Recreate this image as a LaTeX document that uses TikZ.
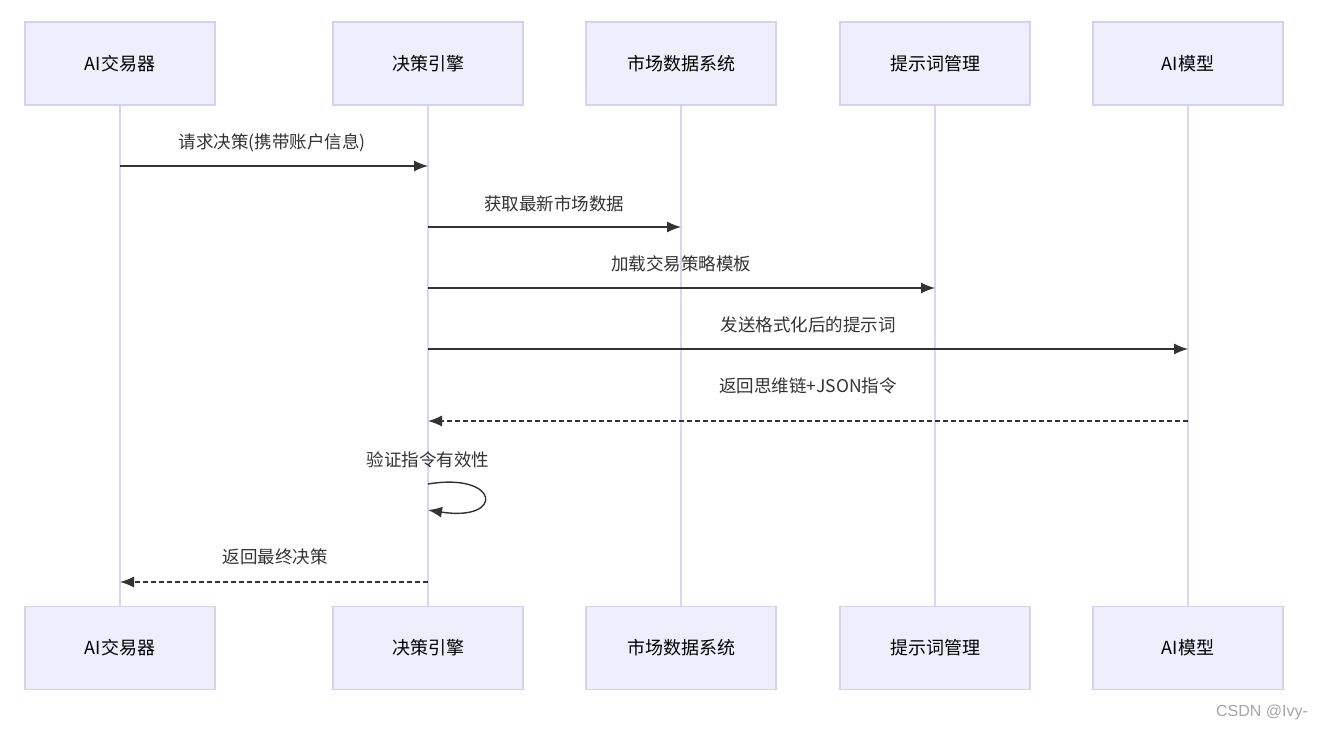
\documentclass[tikz,border=0pt]{standalone}
\usepackage{fontspec}
\setmainfont{Liberation Sans}
\newfontfamily\cjk{Noto Sans CJK SC}
\usetikzlibrary{arrows.meta}
\definecolor{boxfill}{HTML}{EEEEFC}
\definecolor{boxline}{HTML}{D6D0F2}
\definecolor{lifeline}{HTML}{DCD4F4}
\definecolor{ink}{HTML}{333333}
\begin{document}
\begin{tikzpicture}[x=1pt,y=-1pt,
  actor/.style={draw=boxline,fill=boxfill,line width=1.2pt,minimum width=190pt,minimum height=83pt,inner sep=0pt,font=\cjk\fontsize{18}{20}\selectfont,text=black},
  life/.style={draw=lifeline,line width=1.8pt},
  msg/.style={draw=ink,line width=1.4pt,-{Latex[length=14pt,width=11pt]}},
  ret/.style={msg,dashed,dash pattern=on 5pt off 3pt},
  lbl/.style={font=\cjk\fontsize{17.5}{19}\selectfont,text=ink}]
\useasboundingbox (0,0) rectangle (1321,733);
\fill[white] (0,0) rectangle (1321,733);
\foreach \n/\x/\t in {a/120/AI交易器,b/428/决策引擎,c/681/市场数据系统,d/935/提示词管理,e/1188/AI模型}{
  \draw[life] (\x,105) -- (\x,606);
  \node[actor] (\n t) at (\x,63.5) {\t};
  \node[actor] (\n b) at (\x,648) {\t};
}
\coordinate (a1) at (120,166); \coordinate (b1) at (428,166);
\draw[msg] (a1) -- (b1);
\node[lbl] (l1) at (272,143) {请求决策(携带账户信息)};
\coordinate (b2) at (428,227); \coordinate (c2) at (681,227);
\draw[msg] (b2) -- (c2);
\node[lbl] (l2) at (554,204) {获取最新市场数据};
\coordinate (b3) at (428,288); \coordinate (d3) at (935,288);
\draw[msg] (b3) -- (d3);
\node[lbl] (l3) at (681,264) {加载交易策略模板};
\coordinate (b4) at (428,349); \coordinate (e4) at (1188,349);
\draw[msg] (b4) -- (e4);
\node[lbl] (l4) at (808,325) {发送格式化后的提示词};
\coordinate (e5) at (1188,421); \coordinate (b5) at (428,421);
\draw[ret] (e5) -- (b5);
\node[lbl] (l5) at (808,386) {返回思维链+JSON指令};
\coordinate (b6) at (428,484); \coordinate (b6e) at (428,510);
\draw[msg] (b6) .. controls (500,472) and (505,522) .. (b6e);
\node[lbl] (l6) at (428,460) {验证指令有效性};
\coordinate (b7) at (428,582); \coordinate (a7) at (120,582);
\draw[ret] (b7) -- (a7);
\node[lbl] (l7) at (275,557) {返回最终决策};
\node[font=\fontsize{16}{18}\selectfont,text=gray!70] (wm) at (1262,712) {CSDN @Ivy-};
\end{tikzpicture}
\end{document}
